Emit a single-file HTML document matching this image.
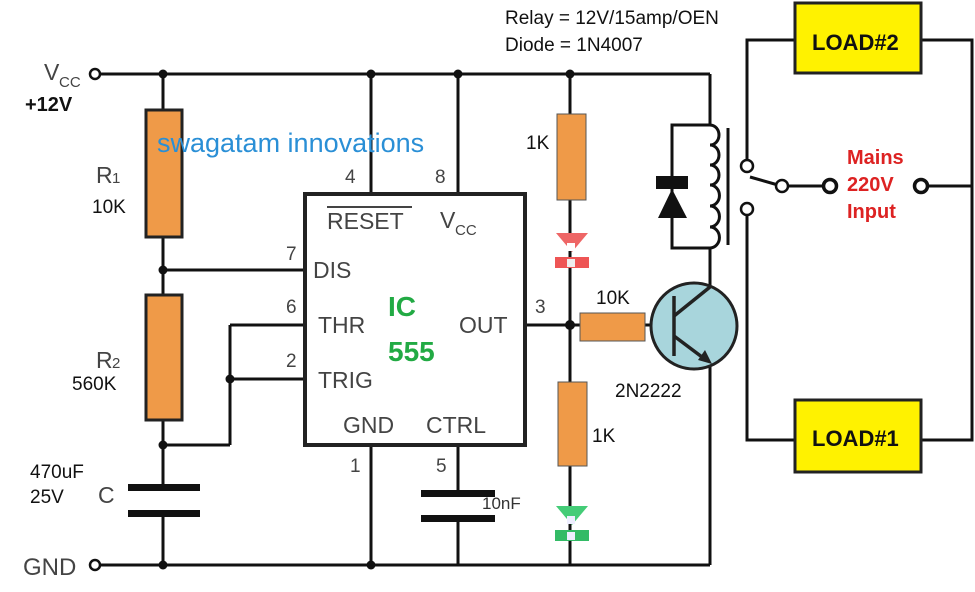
<!DOCTYPE html>
<html><head><meta charset="utf-8"><style>
html,body{margin:0;padding:0;background:#fff;}
svg{display:block;}
text{font-family:"Liberation Sans",sans-serif;}
</style></head><body>
<svg width="975" height="592" viewBox="0 0 975 592" xmlns="http://www.w3.org/2000/svg">
<g stroke="#111" stroke-width="3" fill="none">
<line x1="99" y1="74" x2="710" y2="74"/>
<line x1="710" y1="74" x2="710" y2="125"/>
<line x1="99" y1="565" x2="710" y2="565"/>
<line x1="163" y1="74" x2="163" y2="110"/>
<line x1="163" y1="237" x2="163" y2="295"/>
<line x1="163" y1="420" x2="163" y2="487"/>
<line x1="163" y1="513" x2="163" y2="565"/>
<line x1="163" y1="270" x2="305" y2="270"/>
<line x1="163" y1="445" x2="230" y2="445"/>
<line x1="230" y1="445" x2="230" y2="325"/>
<line x1="230" y1="325" x2="305" y2="325"/>
<line x1="230" y1="379" x2="305" y2="379"/>
<line x1="371" y1="74" x2="371" y2="194"/>
<line x1="458" y1="74" x2="458" y2="194"/>
<line x1="371" y1="445" x2="371" y2="565"/>
<line x1="458" y1="445" x2="458" y2="492"/>
<line x1="458" y1="518" x2="458" y2="565"/>
<line x1="525" y1="325" x2="580" y2="325"/>
<line x1="570" y1="74" x2="570" y2="114"/>
<line x1="570" y1="200" x2="570" y2="382"/>
<line x1="570" y1="466" x2="570" y2="565"/>
<line x1="645" y1="325" x2="652" y2="325"/>
<line x1="710" y1="248" x2="710" y2="290"/>
<line x1="710" y1="366" x2="710" y2="565"/>
<polyline points="710,125 672,125 672,248 710,248"/>
<path d="M710,125 a9,10 0 0 1 0,20 a9,10 0 0 1 0,20 a9,10 0 0 1 0,20 a9,10 0 0 1 0,21 a9,10 0 0 1 0,21 a9,10 0 0 1 0,21" />
<line x1="728" y1="128" x2="728" y2="245"/>
<polyline points="794,40 747,40 747,160"/>
<polyline points="747,214 747,440 794,440"/>
<polyline points="921,40 972,40 972,440 921,440"/>
<line x1="921" y1="186" x2="972" y2="186"/>
<line x1="750" y1="177" x2="778" y2="185"/>
<line x1="786" y1="186" x2="824" y2="186"/>
</g>
<rect x="305" y="194" width="220" height="251" fill="#fff" stroke="#222" stroke-width="4"/>
<g fill="#ef9a48" stroke="#222" stroke-width="3">
<rect x="146" y="110" width="36" height="127"/>
<rect x="146" y="295" width="36" height="125"/>
</g>
<g fill="#ef9a48" stroke="#555" stroke-width="1">
<rect x="557" y="114" width="29" height="86"/>
<rect x="580" y="313" width="65" height="28"/>
<rect x="558" y="382" width="29" height="84"/>
</g>
<g fill="#111">
<rect x="128" y="484" width="72" height="7"/>
<rect x="128" y="510" width="72" height="7"/>
<rect x="421" y="490" width="74" height="7"/>
<rect x="421" y="515" width="74" height="7"/>
<circle cx="163" cy="74" r="4.5"/><circle cx="371" cy="74" r="4.5"/><circle cx="458" cy="74" r="4.5"/><circle cx="570" cy="74" r="4.5"/>
<circle cx="163" cy="270" r="4.5"/><circle cx="163" cy="445" r="4.5"/><circle cx="230" cy="379" r="4.5"/>
<circle cx="163" cy="565" r="4.5"/><circle cx="371" cy="565" r="4.5"/><circle cx="570" cy="325" r="5"/>
<rect x="656" y="176" width="32" height="13"/>
<polygon points="672,189 658,218 687,218"/>
</g>
<polygon points="556,233 588,233 572,252" fill="#e66"/>
<rect x="555" y="257" width="34" height="11" fill="#e55"/>
<rect x="567" y="243" width="8" height="8" fill="#fff"/><rect x="567" y="259" width="8" height="8" fill="#eee"/>
<polygon points="556,506 588,506 572,525" fill="#4c7"/>
<rect x="555" y="530" width="34" height="11" fill="#3b6"/>
<rect x="567" y="516" width="8" height="8" fill="#eef"/><rect x="567" y="532" width="8" height="8" fill="#eef"/>
<circle cx="694" cy="326" r="43" fill="#a8d5dc" stroke="#222" stroke-width="3"/>
<g stroke="#222" stroke-width="3.5">
<line x1="674" y1="296" x2="674" y2="356"/>
<line x1="674" y1="316" x2="710" y2="287"/>
<line x1="674" y1="336" x2="706" y2="360"/>
</g>
<polygon points="712,364 698,360 705,350" fill="#222"/>
<g fill="#fff" stroke="#111">
<circle cx="95" cy="74" r="5" stroke-width="2.5"/>
<circle cx="95" cy="565" r="5" stroke-width="2.5"/>
<circle cx="747" cy="166" r="6" stroke-width="2.5"/>
<circle cx="747" cy="209" r="6" stroke-width="2.5"/>
<circle cx="782" cy="186" r="6" stroke-width="2.5"/>
<circle cx="830" cy="186" r="6.5" stroke-width="3.5"/>
<circle cx="921" cy="186" r="6.5" stroke-width="3.5"/>
</g>
<rect x="795" y="3" width="126" height="70" fill="#fff200" stroke="#222" stroke-width="3"/>
<rect x="795" y="400" width="126" height="72" fill="#fff200" stroke="#222" stroke-width="3"/>
<g font-weight="bold" font-size="22" fill="#111">
<text x="812" y="50">LOAD#2</text>
<text x="812" y="446">LOAD#1</text>
<text x="25" y="111" font-size="20">+12V</text>
</g>
<g fill="#dd2222" font-weight="bold" font-size="20">
<text x="847" y="164">Mains</text>
<text x="847" y="191">220V</text>
<text x="847" y="218">Input</text>
</g>
<g fill="#111" font-size="19">
<text x="505" y="24">Relay = 12V/15amp/OEN</text>
<text x="505" y="51">Diode = 1N4007</text>
<text x="92" y="213">10K</text>
<text x="72" y="390">560K</text>
<text x="30" y="478">470uF</text>
<text x="30" y="503">25V</text>
<text x="526" y="149">1K</text>
<text x="596" y="304">10K</text>
<text x="592" y="442">1K</text>
<text x="615" y="397">2N2222</text>
</g>
<g fill="#444" font-size="23">
<text x="44" y="80">V</text><text x="59" y="87" font-size="15">CC</text>
<text x="96" y="183">R</text><text x="112" y="183" font-size="15">1</text>
<text x="96" y="368">R</text><text x="112" y="368" font-size="15">2</text>
<text x="98" y="503">C</text>
<text x="23" y="575" font-size="24">GND</text>
<text x="327" y="229">RESET</text>
<line x1="327" y1="207" x2="412" y2="207" stroke="#444" stroke-width="2"/>
<text x="440" y="228">V</text><text x="455" y="235" font-size="15">CC</text>
<text x="313" y="278">DIS</text>
<text x="318" y="333">THR</text>
<text x="318" y="388">TRIG</text>
<text x="459" y="333">OUT</text>
<text x="343" y="433">GND</text>
<text x="426" y="433">CTRL</text>
<text x="482" y="509" font-size="17" fill="#333">10nF</text>
</g>
<g fill="#444" font-size="19">
<text x="345" y="183">4</text><text x="435" y="183">8</text>
<text x="286" y="260">7</text><text x="286" y="313">6</text><text x="286" y="367">2</text>
<text x="535" y="313">3</text>
<text x="350" y="472">1</text><text x="436" y="472">5</text>
</g>
<g fill="#22aa44" font-weight="bold" font-size="28">
<text x="388" y="316">IC</text>
<text x="388" y="361">555</text>
</g>
<text x="157" y="152" font-size="27" fill="#2a8fd6">swagatam innovations</text>
</svg>
</body></html>
